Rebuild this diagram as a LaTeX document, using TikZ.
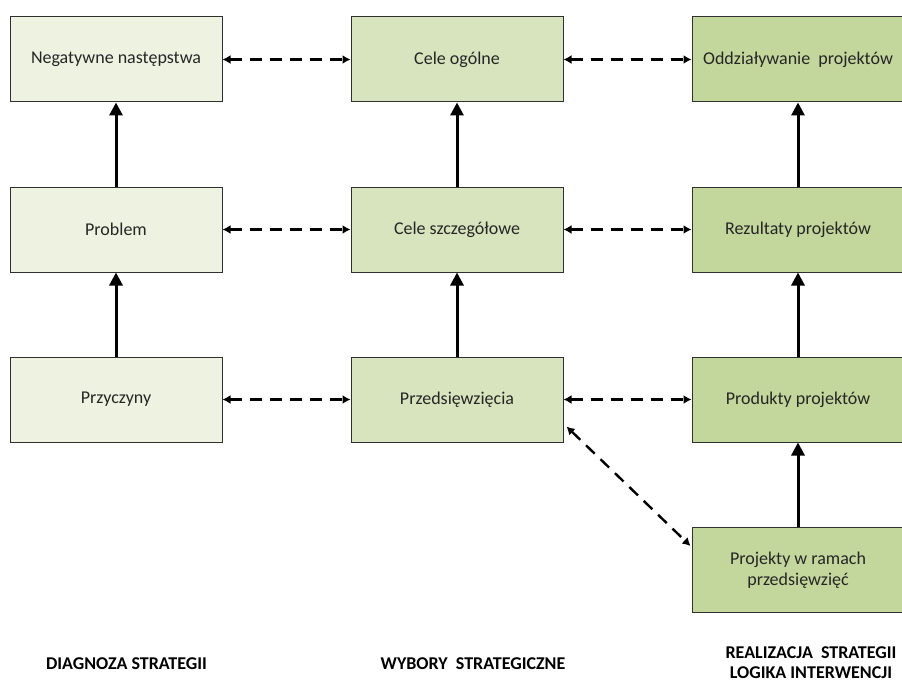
\documentclass[tikz,border=0pt]{standalone}
\usepackage{fontspec}
\setmainfont{Carlito}
\usetikzlibrary{arrows.meta}
\definecolor{cA}{HTML}{EEF3E1}
\definecolor{cB}{HTML}{D7E4BD}
\definecolor{cC}{HTML}{C3D69B}
\definecolor{edge}{HTML}{303030}
\tikzset{
  box/.style={draw=edge, line width=1pt, minimum width=212pt, minimum height=85pt, inner sep=0pt, align=center, font=\fontsize{18}{21}\selectfont, text=black!85},
  boxA/.style={box, fill=cA},
  boxB/.style={box, fill=cB},
  boxC/.style={box, fill=cC},
  solidarr/.style={line width=3pt, -{Triangle[width=13pt,length=13pt]}},
  dasharr/.style={line width=2.4pt, dash pattern=on 12pt off 8pt, {Latex[width=9pt,length=8pt]}-{Latex[width=9pt,length=8pt]}},
  caption/.style={font=\fontsize{18}{20.5}\selectfont\bfseries, align=center, inner sep=0pt}
}
\begin{document}
\begin{tikzpicture}[x=1pt,y=-1pt]
\useasboundingbox (0,0) rectangle (902,682);
% left column
\node[boxA] (neg) at (116,59.5) {Negatywne następstwa};
\node[boxA] (prob) at (116,229.5) {Problem};
\node[boxA] (przy) at (116,399.5) {Przyczyny};
% middle column
\node[boxB] (cog) at (457,59.5) {Cele ogólne};
\node[boxB] (csz) at (457,229.5) {Cele szczegółowe};
\node[boxB] (prz) at (457,399.5) {Przedsięwzięcia};
% right column
\node[boxC] (odd) at (798,59.5) {Oddziaływanie~ projektów};
\node[boxC] (rez) at (798,229.5) {Rezultaty projektów};
\node[boxC] (prod) at (798,399.5) {Produkty projektów};
\node[boxC] (proj) at (798,570) {Projekty w ramach\\przedsięwzięć};
% vertical arrows
\draw[solidarr] (prob.north) -- (neg.south);
\draw[solidarr] (przy.north) -- (prob.south);
\draw[solidarr] (csz.north) -- (cog.south);
\draw[solidarr] (prz.north) -- (csz.south);
\draw[solidarr] (rez.north) -- (odd.south);
\draw[solidarr] (prod.north) -- (rez.south);
\draw[solidarr] (proj.north) -- (prod.south);
% dashed horizontal arrows
\draw[dasharr] (neg.east) -- (cog.west);
\draw[dasharr] (cog.east) -- (odd.west);
\draw[dasharr] (prob.east) -- (csz.west);
\draw[dasharr] (csz.east) -- (rez.west);
\draw[dasharr] (przy.east) -- (prz.west);
\draw[dasharr] (prz.east) -- (prod.west);
% diagonal
\draw[dasharr] ([xshift=3pt,yshift=16pt]prz.south east) -- ([xshift=-1pt,yshift=-19pt]proj.north west);
% captions
\node[caption] (c1) at (126.5,664) {DIAGNOZA STRATEGII};
\node[caption] (c2) at (473,664) {WYBORY~ STRATEGICZNE};
\node[caption] (c3) at (811,662.5) {REALIZACJA~ STRATEGII\\LOGIKA INTERWENCJI};
\end{tikzpicture}
\end{document}
